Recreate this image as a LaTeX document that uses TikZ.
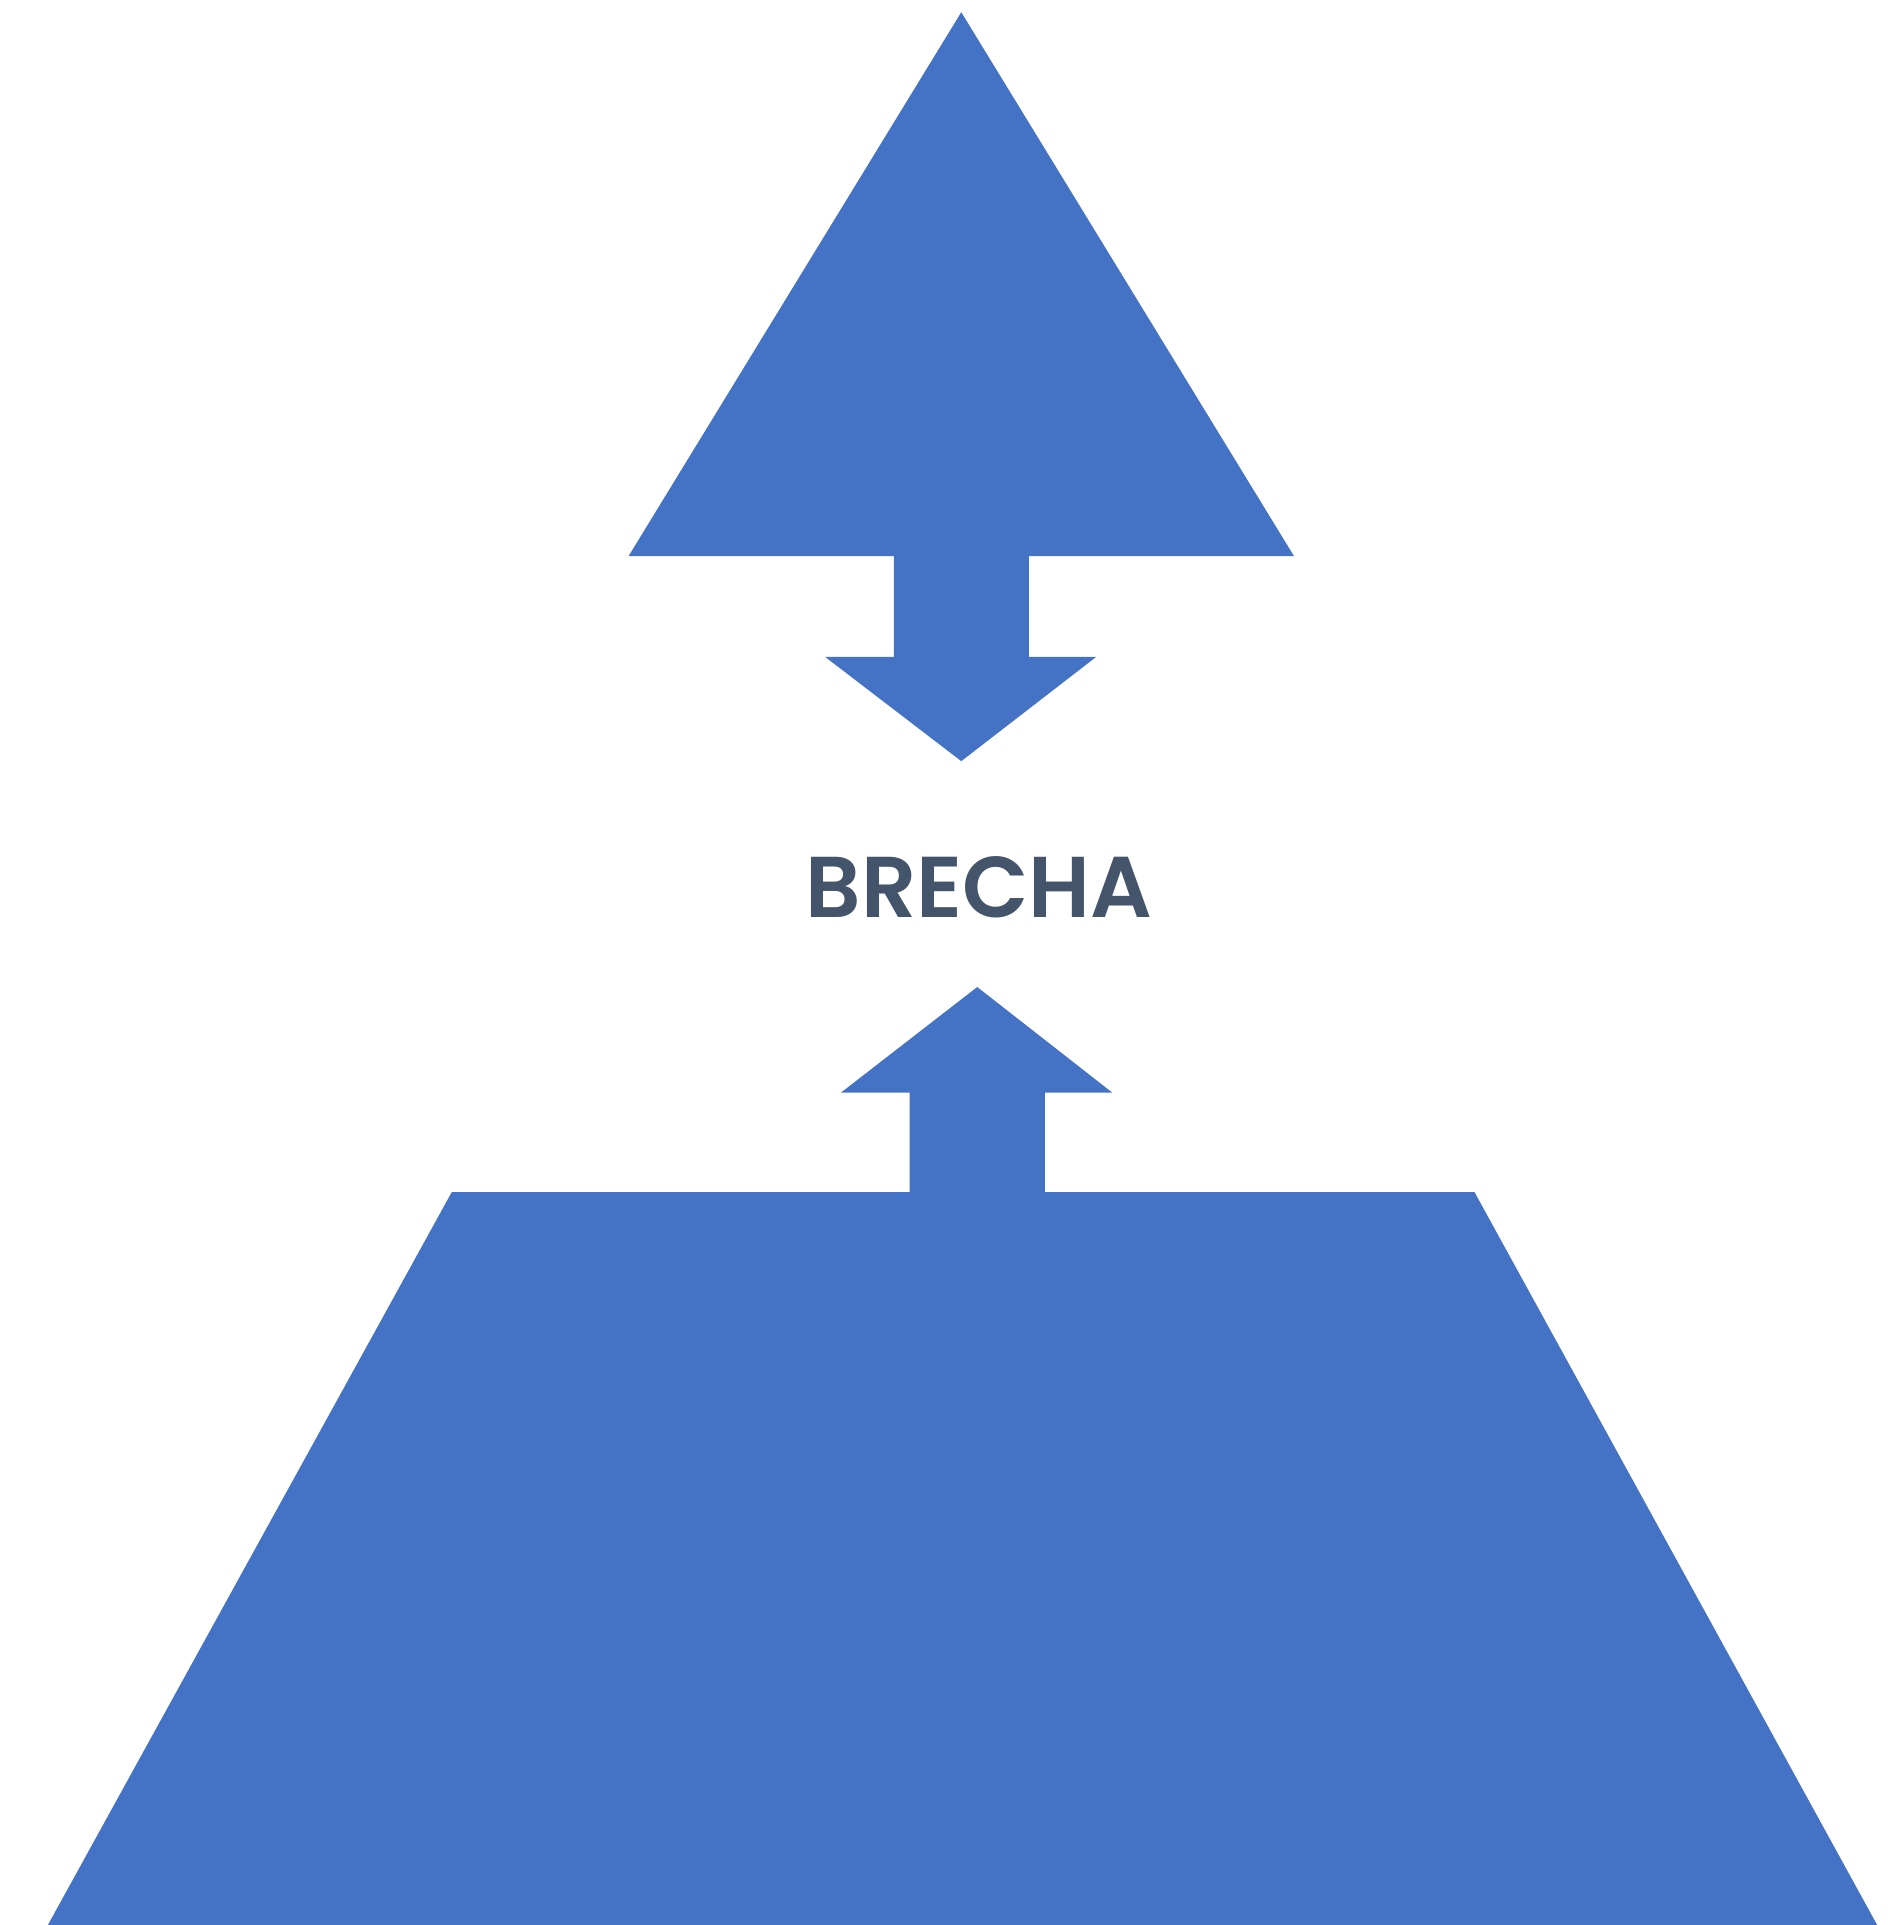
\documentclass[tikz,border=0pt]{standalone}
\usepackage{fontspec}
\setmainfont{Poppins}[BoldFont={Poppins SemiBold}]
\definecolor{blockblue}{HTML}{4472C4}
\definecolor{slatetext}{HTML}{44546A}
\begin{document}
\begin{tikzpicture}[x=1cm,y=1cm,line width=.6pt,
    block/.style={fill=blockblue,draw=none}]
  \useasboundingbox (0,0) rectangle (15.40,15.68);
  % upper triangle with the arrow pointing down
  \coordinate (apex) at (7.83,15.58);
  \coordinate (tipdown) at (7.83,9.48);
  \fill[block] (apex)--(10.54,11.15)--(8.38,11.15)--(8.38,10.33)--(8.93,10.33)
    --(tipdown)--(6.72,10.33)--(7.28,10.33)--(7.28,11.15)--(5.12,11.15)--cycle;
  % label in the gap
  \node[text=slatetext,font=\fontsize{20}{24}\selectfont\bfseries] (gap) at (7.975,8.455) {BRECHA};
  % lower trapezoid with the arrow pointing up
  \coordinate (tipup) at (7.96,7.64);
  \fill[block] (tipup)--(9.06,6.78)--(8.51,6.78)--(8.51,5.97)--(12.01,5.97)
    --(15.29,0)--(0.39,0)--(3.68,5.97)--(7.41,5.97)--(7.41,6.78)--(6.85,6.78)--cycle;
\end{tikzpicture}
\end{document}
